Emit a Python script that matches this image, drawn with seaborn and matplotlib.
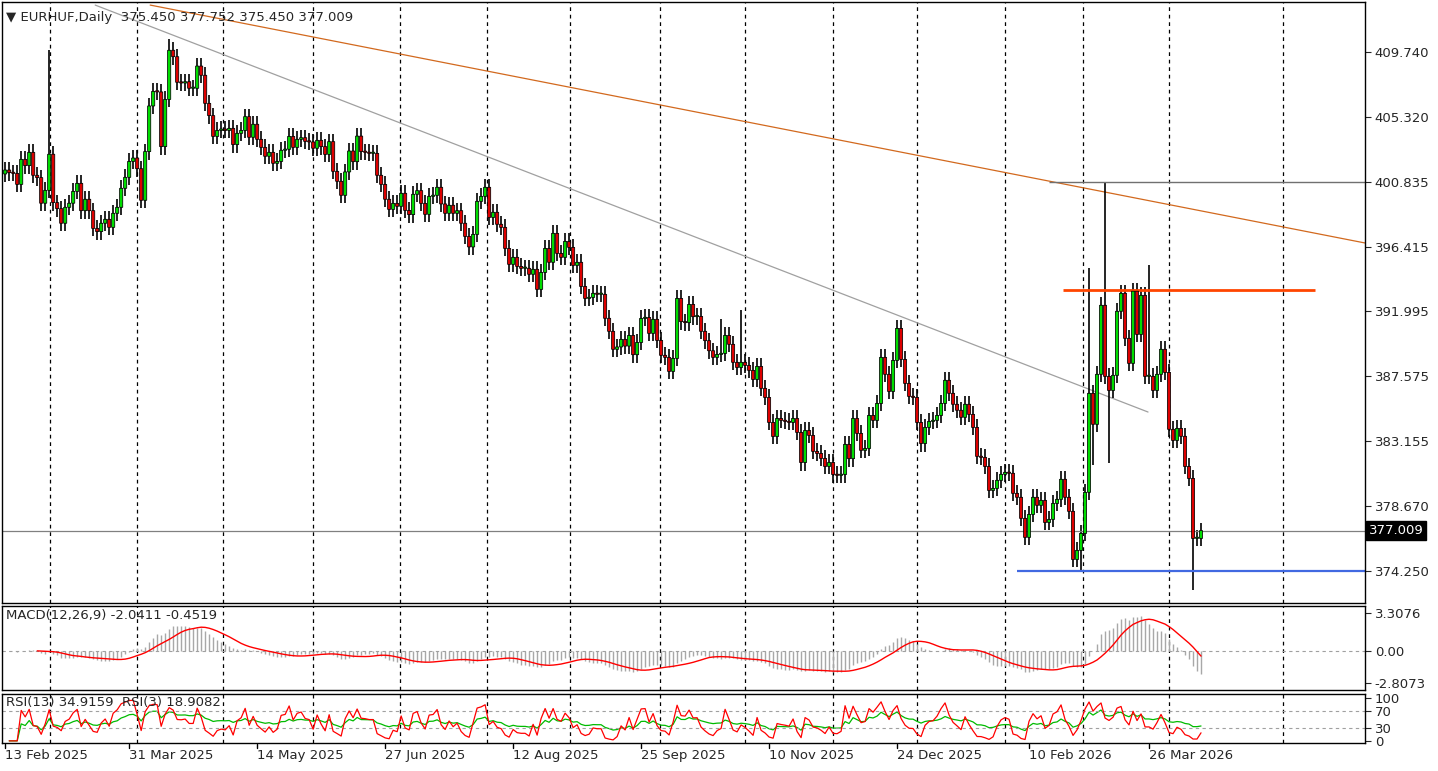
import numpy as np
import pandas as pd
import matplotlib
matplotlib.use("Agg")
import matplotlib.pyplot as plt
import seaborn as sns

sns.set_style("white")
plt.rcParams['font.family'] = ['DejaVu Sans']

closes = [
401.67,401.49,401.44,400.69,402.40,401.97,402.88,401.31,401.15,399.40,400.28,402.75,399.44,399.03,398.03,399.12,
399.40,400.21,400.76,398.89,399.67,398.89,397.68,397.46,398.03,398.30,397.75,398.71,399.12,400.42,401.17,402.26,
402.49,401.76,399.60,402.93,406.05,407.05,407.01,403.27,406.50,409.86,409.42,407.67,407.62,407.71,407.26,407.26,
408.78,408.15,406.23,405.39,403.97,404.38,404.47,404.38,404.52,403.41,404.18,404.38,405.32,403.91,404.80,403.77,
403.22,402.61,402.88,402.13,402.26,403.02,403.09,403.97,403.22,403.77,403.88,403.63,403.59,403.16,403.70,403.27,
402.74,403.61,401.58,400.90,399.94,401.54,402.97,402.24,403.99,402.93,402.88,402.81,402.81,401.31,400.69,399.67,
398.98,399.39,399.19,400.08,398.91,398.62,400.01,400.26,399.39,398.64,399.87,399.94,400.49,399.35,398.71,399.26,
398.71,398.89,398.03,397.13,396.41,397.27,399.53,399.87,400.49,398.43,398.78,397.96,397.75,396.31,395.22,395.70,
395.08,394.95,394.95,394.54,394.88,393.51,394.67,396.31,395.36,397.34,395.97,395.70,396.79,396.38,395.15,395.36,
393.71,392.89,392.96,393.24,393.17,393.17,391.53,390.64,389.41,389.57,390.09,
389.63,390.36,389.04,389.88,391.52,391.59,390.50,391.46,390.02,389.00,388.86,387.90,388.79,392.89,391.30,391.23,
392.48,391.64,391.66,390.64,390.00,389.31,388.86,389.06,389.13,390.36,389.75,388.52,388.17,388.52,388.31,387.97,
387.35,388.24,386.74,386.12,384.41,383.45,384.68,384.55,384.48,384.41,384.68,383.73,381.67,383.86,383.52,382.43,
382.29,381.95,381.40,381.67,380.85,380.79,380.85,382.91,381.93,384.68,383.66,382.50,382.63,384.89,384.55,385.71,
388.86,387.70,386.53,388.65,390.84,388.72,387.08,386.19,386.12,384.41,382.97,
384.07,384.48,384.55,384.89,385.71,387.29,386.40,385.65,385.24,384.76,385.65,384.96,384.07,382.09,382.02,381.40,
379.76,379.90,380.45,380.86,381.00,380.93,379.56,379.29,377.85,376.55,378.12,379.29,378.74,379.08,377.57,377.78,
378.87,379.15,380.52,379.29,378.33,375.04,375.66,376.82,379.63,386.40,384.28,387.70,392.42,387.56,386.60,387.63,
392.01,393.24,390.16,388.45,393.38,390.43,393.10,387.56,387.56,386.60,387.70,389.41,387.83,383.94,383.18,384.00,
383.46,381.40,380.58,376.48,376.48,377.009]
first_open = 401.40
wick = 0.55
extreme_highs = {11: 409.9, 41: 410.6, 275: 400.835, 271: 395.0, 286: 395.2, 184: 392.1, 179: 391.5}
extreme_lows = {297: 372.95, 269: 374.25, 276: 381.6, 272: 381.5}

date_labels = ["13 Feb 2025", "31 Mar 2025", "14 May 2025", "27 Jun 2025", "12 Aug 2025",
               "25 Sep 2025", "10 Nov 2025", "24 Dec 2025", "10 Feb 2026", "26 Mar 2026"]
date_label_idx = [0, 31, 63, 95, 127, 159, 191, 223, 256, 286]
grid_idx = [11.25, 33, 54.5, 77, 98.75, 120.5, 141.25, 163.75, 185, 207, 228, 250, 269.5, 291, 319.5]
price_ticks = [409.740, 405.320, 400.835, 396.415, 391.995, 387.575, 383.155, 378.670, 374.250]
macd_ticks = [3.3076, 0.00, -2.8073]
rsi_ticks = [100, 70, 30, 0]

brown_line = ([36.25, 340], [412.95, 396.68])
gray_line = ([22.5, 285.75], [412.95, 385.12])
hline_gray = (261, 340, 400.835)
hline_orange = (264.5, 327.5, 393.46)
hline_blue = (253, 340, 374.25)
last_price = 377.009

c = np.array(closes)
n = len(c)
o = np.concatenate([[first_open], c[:-1]])
hi = np.maximum(o, c) + wick
lo = np.minimum(o, c) - wick
for k, v in extreme_highs.items(): hi[k] = v
for k, v in extreme_lows.items(): lo[k] = v
idx = np.arange(n)

s = pd.Series(c)
macd = s.ewm(span=12, adjust=False).mean() - s.ewm(span=26, adjust=False).mean()
signal = macd.rolling(9).mean()
def rsi(series, p):
    d = series.diff()
    up = d.clip(lower=0).ewm(alpha=1/p, adjust=False).mean()
    dn = (-d.clip(upper=0)).ewm(alpha=1/p, adjust=False).mean()
    return 100 - 100/(1+up/dn)
rsi13 = rsi(s, 13)
rsi3 = rsi(s, 3)

W, H = 1438, 771
fig = plt.figure(figsize=(W/100, H/100), dpi=100)
def ax_rect(x0, y0, x1, y1):
    return fig.add_axes([x0/W, 1-y1/H, (x1-x0)/W, (y1-y0)/H])
ax = ax_rect(2, 2, 1365, 603)
axm = ax_rect(2, 606, 1365, 690)
axr = ax_rect(2, 694, 1365, 743)
XL = (-0.8, 340.0)

for a in (ax, axm, axr):
    a.set_xlim(*XL)
    for g in grid_idx:
        a.axvline(g, color='black', ls=(0, (3, 3)), lw=0.9, zorder=0)
    for sp in a.spines.values():
        sp.set_color('black'); sp.set_linewidth(1)
    a.yaxis.tick_right()
    a.tick_params(axis='y', length=4, labelsize=9.5, pad=3, direction='out')
    a.set_xticks([])

# candles
ax.vlines(idx, lo, hi, color='black', lw=1.2, zorder=2)
up = c >= o
bot = np.minimum(o, c)
body_h = np.maximum(np.abs(c - o), 0.08)
for mask, col in ((up, '#00dd00'), (~up, '#dd0000')):
    ax.bar(idx[mask], body_h[mask], bottom=bot[mask], width=0.78, color=col,
           edgecolor='black', lw=0.55, zorder=3, snap=False)

ax.plot(*brown_line, color='#d2691e', lw=0.9, zorder=1)
ax.plot(*gray_line, color='#a0a0a0', lw=0.9, zorder=1)
ax.hlines(hline_gray[2], hline_gray[0], hline_gray[1], color='#707070', lw=1)
ax.hlines(hline_orange[2], hline_orange[0], hline_orange[1], color='#ff4500', lw=2)
ax.hlines(hline_blue[2], hline_blue[0], hline_blue[1], color='#4169e1', lw=1.6)
ax.axhline(last_price, color='#808080', lw=0.9)
ax.set_ylim(372.06, 413.16)
ax.set_yticks(price_ticks)
ax.set_yticklabels([f"{t:.3f}" for t in price_ticks])
ax.text(1.003, (last_price-372.06)/(413.16-372.06), f"{last_price:.3f}", transform=ax.transAxes,
        va='center', ha='left', fontsize=9.5, color='white',
        bbox=dict(boxstyle='square,pad=0.2', fc='black', ec='black'))
ax.text(0.003, 0.985, "\u25bc EURHUF,Daily  375.450 377.752 375.450 377.009", transform=ax.transAxes,
        va='top', ha='left', fontsize=9.5)

# MACD
axm.vlines(idx, 0, macd.values, color='#a8a8a8', lw=1, zorder=2)
sns.lineplot(x=idx, y=signal.values, ax=axm, color='red', lw=1, zorder=3)
axm.axhline(0, color='#a0a0a0', ls=(0, (3, 3)), lw=0.8)
axm.set_ylim(-3.4, 3.9)
axm.set_yticks(macd_ticks)
axm.set_yticklabels(["3.3076", "0.00", "-2.8073"])
axm.set_ylabel("")
axm.text(0.003, 0.96, f"MACD(12,26,9) {macd.iloc[-1]:.4f} {signal.iloc[-1]:.4f}", transform=axm.transAxes,
         va='top', ha='left', fontsize=9.5)

# RSI
sns.lineplot(x=idx, y=rsi13.values, ax=axr, color='#00bb00', lw=0.9, zorder=2)
sns.lineplot(x=idx, y=rsi3.values, ax=axr, color='red', lw=0.9, zorder=3)
for lvl in (70, 30):
    axr.axhline(lvl, color='#a0a0a0', ls=(0, (3, 3)), lw=0.8)
axr.set_ylim(-5, 110)
axr.set_yticks(rsi_ticks)
axr.set_yticklabels([str(t) for t in rsi_ticks])
axr.set_ylabel("")
axr.text(0.003, 0.96, f"RSI(13) {rsi13.iloc[-1]:.4f}  RSI(3) {rsi3.iloc[-1]:.4f}", transform=axr.transAxes,
         va='top', ha='left', fontsize=9.5)

for lab, i in zip(date_labels, date_label_idx):
    axr.text(i, -0.12, lab, transform=axr.get_xaxis_transform(), ha='left', va='top', fontsize=9.5)
    axr.plot([i, i], [-0.02, -0.1], transform=axr.get_xaxis_transform(), color='black', lw=1, clip_on=False)

fig.savefig("out.png", dpi=100, facecolor='white')
